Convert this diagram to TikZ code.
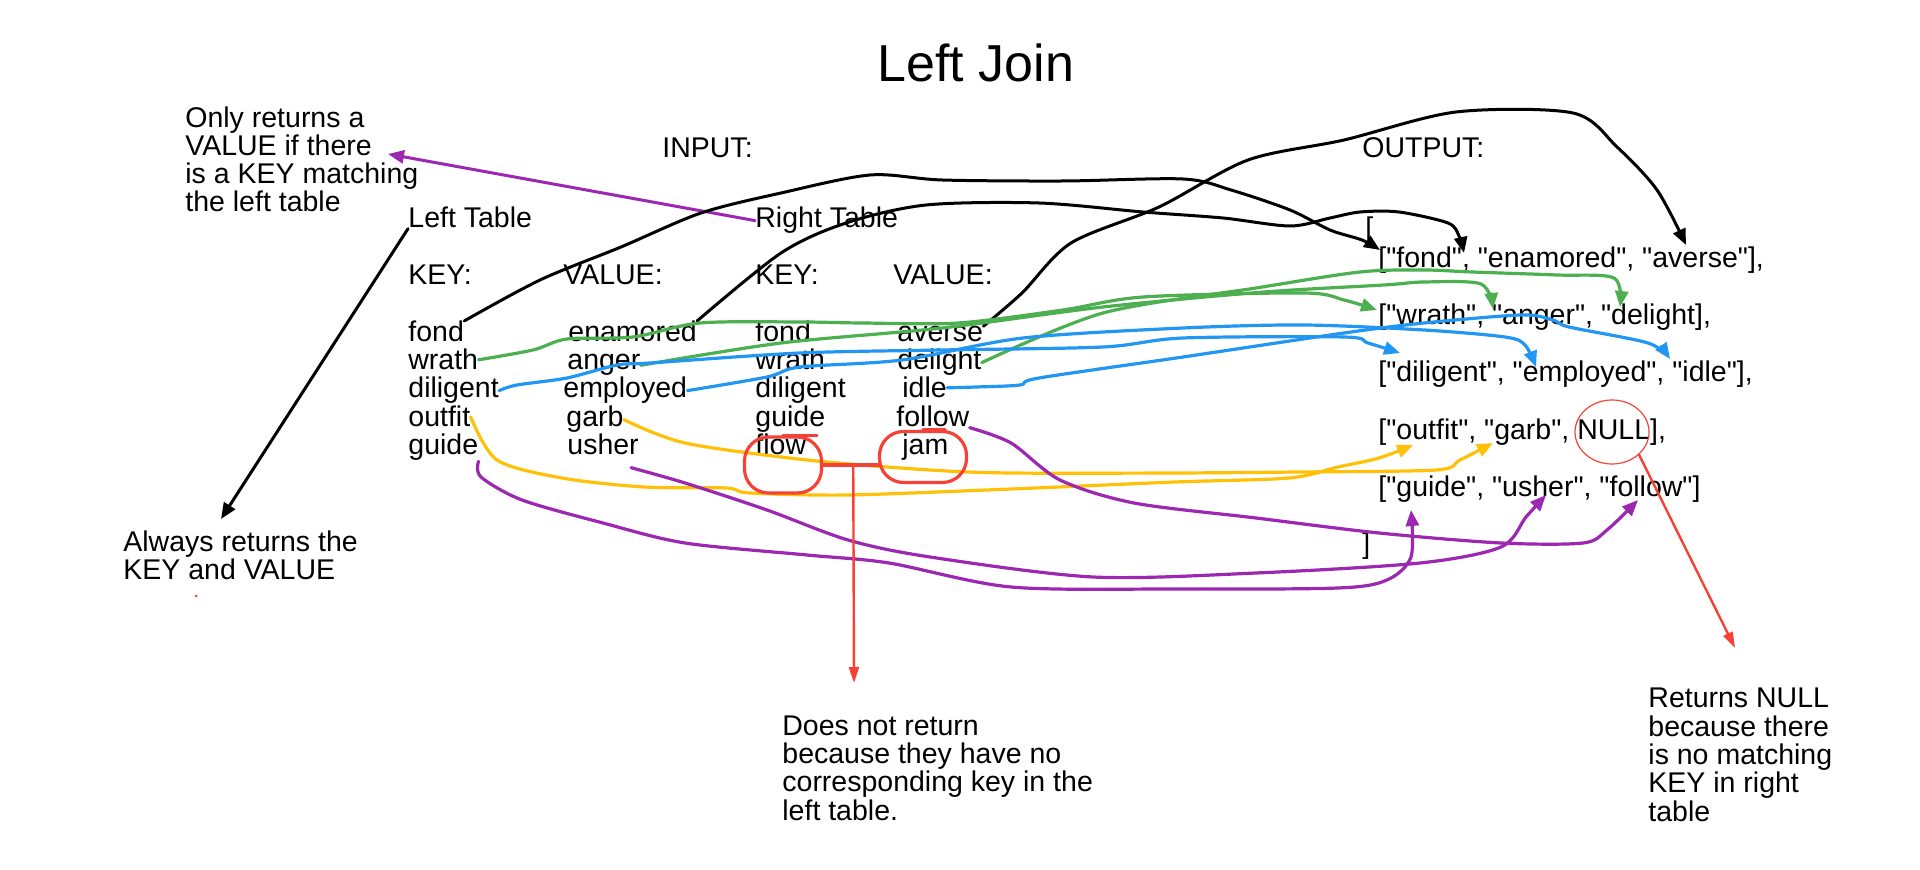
\documentclass[tikz,border=0pt]{standalone}
\usepackage{fontspec}
\setmainfont{Liberation Sans}[Ligatures=TeXOff]
\usepackage{tikz}
\usetikzlibrary{arrows.meta, calc, shapes.geometric}
\definecolor{inkgreen}{RGB}{76,175,80}
\definecolor{inkblue}{RGB}{33,150,243}
\definecolor{inkyellow}{RGB}{255,193,7}
\definecolor{inkpurple}{RGB}{156,39,176}
\definecolor{inkred}{RGB}{244,67,54}

\begin{document}
\begin{tikzpicture}[x=0.5pt, y=-0.5pt,
  >={Triangle[length=8pt, width=6.5pt]},
  txt/.style={anchor=base west, inner sep=0pt, font=\fontsize{14.25}{14.15}\selectfont},
  note/.style={txt, align=left},
  ink/.style={line width=1.6pt, line cap=round, line join=round},
  ring/.style={draw=inkred, line width=1.6pt, rounded corners=12pt, inner sep=0pt},
  nullring/.style={draw=inkred, ellipse, line width=0.6pt, inner sep=0pt,
    minimum width=37pt, minimum height=32pt}]

  \useasboundingbox (0,0) rectangle (1920,870);

  % --- Title and headings ---
  \node[txt, font=\fontsize{26}{30}\selectfont] (title) at (877,82) {Left Join};
  \node[txt] (input) at (662,158) {INPUT:};
  \node[txt] (output) at (1362,158) {OUTPUT:};
  \node[txt] (lt) at (408,228) {Left Table};
  \node[txt] (rt) at (755,228) {Right Table};
  \node[txt] (lkey) at (408,285) {KEY:};
  \node[txt] (lval) at (563,285) {VALUE:};
  \node[txt] (rkey) at (755,285) {KEY:};
  \node[txt] (rval) at (893,285) {VALUE:};

  % --- Left table ---
  \node[txt] (lk1) at (408,342) {fond};
  \node[txt] (lk2) at (408,370) {wrath};
  \node[txt] (lk3) at (408,398) {diligent};
  \node[txt] (lk4) at (408,427) {outfit};
  \node[txt] (lk5) at (408,455) {guide};
  \node[txt] (lv1) at (568,342) {enamored};
  \node[txt] (lv2) at (567,370) {anger};
  \node[txt] (lv3) at (563,398) {employed};
  \node[txt] (lv4) at (566,427) {garb};
  \node[txt] (lv5) at (567,455) {usher};

  % --- Right table ---
  \node[txt] (rk1) at (755,342) {fond};
  \node[txt] (rk2) at (755,370) {wrath};
  \node[txt] (rk3) at (755,398) {diligent};
  \node[txt] (rk4) at (755,427) {guide};
  \node[txt] (rk5) at (755,455) {flow};
  \node[txt] (rv1) at (897,342) {averse};
  \node[txt] (rv2) at (897,370) {delight};
  \node[txt] (rv3) at (902,398) {idle};
  \node[txt] (rv4) at (896,427) {follow};
  \node[txt] (rv5) at (902,455) {jam};

  % --- Output ---
  \node[txt] (open) at (1365,238) {[};
  \node[txt] (out1) at (1378,268) {["fond", "enamored", "averse"],};
  \node[txt] (out2) at (1378,325) {["wrath", "anger", "delight],};
  \node[txt] (out3) at (1378,382) {["diligent", "employed", "idle"],};
  \node[txt] (out4) at (1378,440) {["outfit", "garb", NULL],};
  \node[txt] (out5) at (1378,497) {["guide", "usher", "follow"]};
  \node[txt] (close) at (1362,554) {]};

  % --- Notes (placed at their last baseline) ---
  \node[note] (onlynote) at (185,212) {Only returns a\\VALUE if there\\is a KEY matching\\the left table};
  \node[note] (alwaysnote) at (123,580) {Always returns the\\KEY and VALUE};
  \node[note] (noretnote) at (782,820) {Does not return\\because they have no\\corresponding key in the\\left table.};
  \node[note] (nullnote) at (1648,821) {Returns NULL\\because there\\is no matching\\KEY in right\\table};

  % --- Arrow tips ---
  \coordinate (alwaystip) at (221,519);
  \coordinate (onlytip) at (388,154);
  \coordinate (fondtip) at (1380,250);
  \coordinate (enamtip) at (1464,253);
  \coordinate (aversetip) at (1686,245);
  \coordinate (wrathtip) at (1377,310);
  \coordinate (angertip) at (1493,309);
  \coordinate (delighttip) at (1620,307);
  \coordinate (diltip) at (1400,353);
  \coordinate (emptip) at (1536,367);
  \coordinate (idletip) at (1670,359);
  \coordinate (outfittip) at (1413,445);
  \coordinate (garbtip) at (1493,443);
  \coordinate (guidetip) at (1411,510);
  \coordinate (ushertip) at (1546,495);
  \coordinate (followtip) at (1638,500);
  \coordinate (noreturntip) at (854,683);
  \coordinate (nulltip) at (1735,648);

  % --- Black: table labels and first row ---
  \draw[ink, line width=1.5pt, ->] (lt.south west) -- (alwaystip);
  \draw[ink, line width=1.5pt, inkpurple, ->] (rt.west) -- (onlytip);
  \draw[ink, line width=1.5pt, ->] plot[smooth, tension=0.5] coordinates {(lk1.north east)
    (540,280) (621,247) (701,213) (781,193) (870,175) (942,180) (1063,181)
    (1183,179) (1231,190) (1290,210) (1330,230) (1362,240) (fondtip)};
  \draw[ink, line width=1.5pt, ->] plot[smooth, tension=0.5] coordinates {(lv1.north east)
    (781,253) (846,223) (926,205) (1039,203) (1143,212) (1223,218) (1290,226)
    (1330,218) (1360,212) (1399,212) (1448,223) (1459,236) (enamtip)};
  \draw[ink, line width=1.5pt, ->] plot[smooth, tension=0.5] coordinates {(rv1.north east)
    (1022,293) (1071,243) (1159,207) (1248,160) (1344,140) (1456,112) (1573,113)
    (1617,147) (1657,190) (aversetip)};

  % --- Green: second row ---
  \draw[ink, inkgreen, ->] plot[smooth, tension=0.5] coordinates {(lk2.east)
    (533,350) (567,339) (633,337) (700,323) (800,322) (862,323) (958,323)
    (1063,310) (1143,297) (1304,293) (1344,300) (wrathtip)};
  \draw[ink, inkgreen, ->] plot[smooth, tension=0.5] coordinates {(lv2.east)
    (781,343) (942,328) (1103,307) (1264,292) (1384,285) (1424,282) (1481,284) (angertip)};
  \draw[ink, inkgreen, ->] plot[smooth, tension=0.5] coordinates {(rv2.east)
    (1103,313) (1256,288) (1360,272) (1424,270) (1472,272) (1557,275) (1614,278) (delighttip)};

  % --- Blue: third row ---
  \draw[ink, inkblue, ->] plot[smooth, tension=0.5] coordinates {(lk3.east)
    (517,385) (567,378) (617,365) (650,363) (800,353) (942,350) (1103,347)
    (1183,338) (1344,337) (1368,343) (diltip)};
  \draw[ink, inkblue, ->] plot[smooth, tension=0.5] coordinates {(lv3.east)
    (767,377) (800,367) (902,360) (1023,338) (1183,328) (1304,325) (1424,330)
    (1505,337) (1525,345) (emptip)};
  \draw[ink, inkblue, ->] plot[smooth, tension=0.5] coordinates {(rv3.east)
    (976,387) (1020,385) (1039,378) (1183,357) (1344,333) (1424,323) (1521,315)
    (1553,320) (1569,327) (1648,343) (idletip)};

  % --- Yellow: fourth row ---
  \draw[ink, inkyellow, ->] plot[smooth, tension=0.5] coordinates {(lk4.east)
    (497,460) (562,478) (644,487) (726,488) (750,493) (848,495) (1011,489)
    (1175,482) (1289,478) (1338,467) (1379,458) (outfittip)};
  \draw[ink, inkyellow, ->] plot[smooth, tension=0.5] coordinates {(lv4.east)
    (685,443) (807,460) (930,470) (1011,473) (1175,473) (1297,472) (1436,470)
    (1460,460) (garbtip)};

  % --- Purple: fifth row ---
  \draw[ink, inkpurple, ->] plot[smooth, tension=0.5] coordinates {(lk5.south east)
    (481,477) (522,500) (603,523) (685,543) (807,555) (889,563) (1011,587)
    (1175,589) (1338,588) (1387,580) (1411,557) (guidetip)};
  \draw[ink, inkpurple, ->] plot[smooth, tension=0.5] coordinates {($(lv5.south east)+(-8,12)$)
    (685,483) (767,510) (848,540) (930,557) (1093,577) (1256,573) (1420,563)
    (1501,547) (1526,517) (ushertip)};
  \draw[ink, inkpurple, ->] plot[smooth, tension=0.5] coordinates {(rv4.south east)
    (1011,443) (1060,480) (1134,503) (1256,518) (1379,533) (1501,543) (1583,543)
    (1607,530) (followtip)};

  % --- Red: rows with no match ---
  \node[ring, minimum width=38.5pt, minimum height=28pt] (flowring) at (783,465) {};
  \node[ring, minimum width=43.5pt, minimum height=25.5pt] (jamring) at (923,457) {};
  \draw[ink, inkred] (flowring.north) -- ++(34,0);
  \draw[ink, inkred] (jamring.north) -- ++(22,0);
  \draw[ink, inkred] (flowring.east) -- (flowring.east -| jamring.west);
  \coordinate (split) at ($(flowring.east)!0.55!(flowring.east -| jamring.west)$);
  \draw[ink, inkred, line width=1.2pt, ->, >={Triangle[length=8pt, width=5pt]}] (split) -- (noreturntip);
  \node[nullring] (nullring) at (1612,432) {};
  \draw[ink, inkred, line width=1.2pt, ->, >={Triangle[length=8pt, width=5pt]}] (nullring.-40) -- (nulltip);
  \fill[inkred] (196,596) circle [radius=1.5];

\end{tikzpicture}
\end{document}
